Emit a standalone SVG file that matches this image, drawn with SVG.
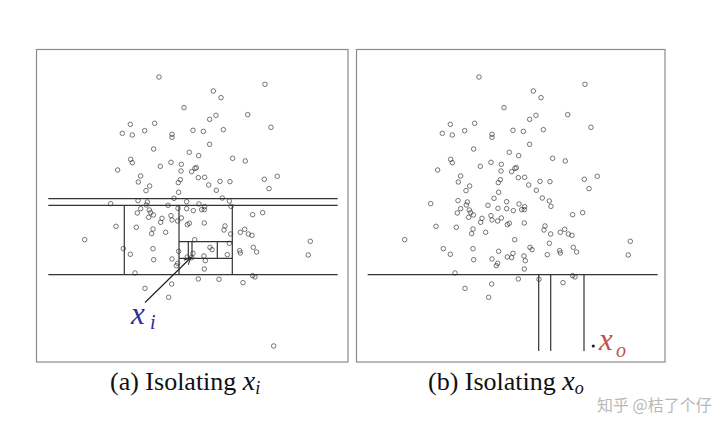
<svg xmlns="http://www.w3.org/2000/svg" xmlns:xlink="http://www.w3.org/1999/xlink" width="720" height="433" viewBox="0 0 720 433">
<style>
.frame{fill:none;stroke:#8a8a8a;stroke-width:1.2}
.cut{stroke:#333;stroke-width:1.2;fill:none}
.pt{fill:none;stroke:#333;stroke-width:2}
.cap{font-family:"Liberation Serif","Times New Roman",serif;font-size:26px;fill:#111}
.lab{font-family:"Liberation Serif","Times New Roman",serif;font-style:italic}
</style>
<defs>
<marker id="ah" viewBox="0 0 10 10" refX="9" refY="5" markerWidth="8" markerHeight="8" orient="auto" markerUnits="userSpaceOnUse">
<path d="M0,1 L9,5 L0,9" fill="none" stroke="#222" stroke-width="1.2"/>
</marker>
<g id="pts" class="pt">
<circle cx="372" cy="96" r="6.8"/><circle cx="690" cy="118" r="6.8"/><circle cx="535" cy="138" r="6.8"/><circle cx="558" cy="158" r="6.8"/>
<circle cx="447" cy="188" r="6.8"/><circle cx="543" cy="211" r="6.8"/><circle cx="524" cy="223" r="6.8"/><circle cx="638" cy="209" r="6.8"/>
<circle cx="359" cy="235" r="6.8"/><circle cx="286" cy="238" r="6.8"/><circle cx="262" cy="265" r="6.8"/><circle cx="292" cy="270" r="6.8"/>
<circle cx="329" cy="257" r="6.8"/><circle cx="411" cy="268" r="6.8"/><circle cx="411" cy="277" r="6.8"/><circle cx="474" cy="256" r="6.8"/>
<circle cx="505" cy="259" r="6.8"/><circle cx="565" cy="254" r="6.8"/><circle cx="708" cy="247" r="6.8"/><circle cx="524" cy="298" r="6.8"/>
<circle cx="356" cy="312" r="6.8"/><circle cx="463" cy="322" r="6.8"/><circle cx="491" cy="332" r="6.8"/><circle cx="287" cy="343" r="6.8"/>
<circle cx="292" cy="353" r="6.8"/><circle cx="593" cy="340" r="6.8"/><circle cx="631" cy="348" r="6.8"/><circle cx="248" cy="375" r="6.8"/>
<circle cx="376" cy="364" r="6.8"/><circle cx="408" cy="352" r="6.8"/><circle cx="439" cy="358" r="6.8"/><circle cx="438" cy="378" r="6.8"/>
<circle cx="470" cy="380" r="6.8"/><circle cx="480" cy="370" r="6.8"/><circle cx="484" cy="368" r="6.8"/><circle cx="317" cy="393" r="6.8"/>
<circle cx="310" cy="411" r="6.8"/><circle cx="490" cy="398" r="6.8"/><circle cx="509" cy="397" r="6.8"/><circle cx="436" cy="404" r="6.8"/>
<circle cx="430" cy="413" r="6.8"/><circle cx="555" cy="409" r="6.8"/><circle cx="585" cy="410" r="6.8"/><circle cx="688" cy="403" r="6.8"/>
<circle cx="727" cy="394" r="6.8"/><circle cx="702" cy="431" r="6.8"/><circle cx="521" cy="420" r="6.8"/><circle cx="544" cy="436" r="6.8"/>
<circle cx="344" cy="423" r="6.8"/><circle cx="333" cy="437" r="6.8"/><circle cx="431" cy="442" r="6.8"/><circle cx="417" cy="460" r="6.8"/>
<circle cx="455" cy="470" r="6.8"/><circle cx="492" cy="477" r="6.8"/><circle cx="509" cy="485" r="6.8"/><circle cx="508" cy="494" r="6.8"/>
<circle cx="562" cy="459" r="6.8"/><circle cx="583" cy="468" r="6.8"/><circle cx="588" cy="484" r="6.8"/><circle cx="399" cy="481" r="6.8"/>
<circle cx="429" cy="490" r="6.8"/><circle cx="455" cy="491" r="6.8"/><circle cx="475" cy="497" r="6.8"/><circle cx="500" cy="494" r="6.8"/>
<circle cx="227" cy="476" r="6.8"/><circle cx="309" cy="467" r="6.8"/><circle cx="337" cy="471" r="6.8"/><circle cx="334" cy="480" r="6.8"/>
<circle cx="317" cy="491" r="6.8"/><circle cx="307" cy="504" r="6.8"/><circle cx="343" cy="495" r="6.8"/><circle cx="347" cy="503" r="6.8"/>
<circle cx="355" cy="510" r="6.8"/><circle cx="341" cy="517" r="6.8"/><circle cx="381" cy="520" r="6.8"/><circle cx="408" cy="512" r="6.8"/>
<circle cx="377" cy="532" r="6.8"/><circle cx="411" cy="525" r="6.8"/><circle cx="428" cy="528" r="6.8"/><circle cx="439" cy="519" r="6.8"/>
<circle cx="457" cy="539" r="6.8"/><circle cx="463" cy="535" r="6.8"/><circle cx="508" cy="534" r="6.8"/><circle cx="653" cy="509" r="6.8"/>
<circle cx="683" cy="503" r="6.8"/><circle cx="243" cy="544" r="6.8"/><circle cx="304" cy="547" r="6.8"/><circle cx="354" cy="552" r="6.8"/>
<circle cx="350" cy="566" r="6.8"/><circle cx="392" cy="562" r="6.8"/><circle cx="570" cy="543" r="6.8"/><circle cx="567" cy="555" r="6.8"/>
<circle cx="587" cy="567" r="6.8"/><circle cx="616" cy="562" r="6.8"/><circle cx="629" cy="553" r="6.8"/><circle cx="640" cy="567" r="6.8"/>
<circle cx="651" cy="571" r="6.8"/><circle cx="149" cy="584" r="6.8"/><circle cx="826" cy="589" r="6.8"/><circle cx="479" cy="584" r="6.8"/>
<circle cx="583" cy="595" r="6.8"/><circle cx="265" cy="611" r="6.8"/><circle cx="286" cy="628" r="6.8"/><circle cx="354" cy="611" r="6.8"/>
<circle cx="431" cy="619" r="6.8"/><circle cx="525" cy="607" r="6.8"/><circle cx="531" cy="614" r="6.8"/><circle cx="577" cy="629" r="6.8"/>
<circle cx="614" cy="617" r="6.8"/><circle cx="616" cy="624" r="6.8"/><circle cx="655" cy="607" r="6.8"/><circle cx="665" cy="621" r="6.8"/>
<circle cx="820" cy="630" r="6.8"/><circle cx="356" cy="644" r="6.8"/><circle cx="411" cy="642" r="6.8"/><circle cx="457" cy="636" r="6.8"/>
<circle cx="470" cy="638" r="6.8"/><circle cx="474" cy="625" r="6.8"/><circle cx="507" cy="633" r="6.8"/><circle cx="511" cy="647" r="6.8"/>
<circle cx="428" cy="655" r="6.8"/><circle cx="424" cy="662" r="6.8"/><circle cx="508" cy="672" r="6.8"/><circle cx="300" cy="684" r="6.8"/>
<circle cx="490" cy="702" r="6.8"/><circle cx="552" cy="703" r="6.8"/><circle cx="624" cy="713" r="6.8"/><circle cx="653" cy="692" r="6.8"/>
<circle cx="660" cy="696" r="6.8"/><circle cx="410" cy="717" r="6.8"/><circle cx="330" cy="730" r="6.8"/><circle cx="401" cy="757" r="6.8"/>
</g>
</defs>
<rect width="720" height="433" fill="#fff"/>
<rect class="frame" x="36.5" y="49.5" width="311.5" height="312.5"/>
<rect class="frame" x="356.5" y="49.5" width="308.5" height="312.5"/>
<g id="panel-a">
<use xlink:href="#pts" transform="translate(35,45) scale(0.3333)"/>
<circle cx="273.7" cy="346" r="2.27" fill="none" stroke="#333" stroke-width="0.67"/>
<g class="cut">
<path d="M48.3,198.7H337.7M48.3,205.3H337.7M48.3,274.7H337.7"/>
<path d="M124.3,205.3V274.7M232.3,205.3V274.7M179,205.3V274.7"/>
<path d="M179,241.7H232.3M179,258.3H232.3M217.3,241.7V258.3M188.3,241.7V258.3M192,241.7V258.3"/>
</g>
<line x1="145" y1="302.5" x2="191" y2="257.5" stroke="#222" stroke-width="1.2" marker-end="url(#ah)"/>
<text class="lab" x="131" y="323.5" font-size="31" fill="#2b2b9c">x</text>
<text class="lab" x="150" y="329" font-size="20" fill="#2b2b9c">i</text>
</g>
<g id="panel-b">
<use xlink:href="#pts" transform="translate(355,45) scale(0.3333)"/>
<g class="cut">
<path d="M367.7,274.7H657.7"/>
<path d="M538.7,274.7V351M550.7,274.7V351M584,274.7V351"/>
</g>
<circle cx="593.3" cy="346" r="1.6" fill="#222"/>
<text class="lab" x="599" y="350" font-size="31" fill="#c0504d">x</text>
<text class="lab" x="616" y="357" font-size="20" fill="#c0504d">o</text>
</g>
<text class="cap" x="110" y="390">(a) Isolating <tspan font-style="italic" font-size="28">x</tspan><tspan font-style="italic" font-size="18" dy="4">i</tspan></text>
<text class="cap" x="428" y="390">(b) Isolating <tspan font-style="italic" font-size="28">x</tspan><tspan font-style="italic" font-size="18" dy="4">o</tspan></text>
<text x="597" y="411" font-family="'Noto Sans CJK SC',sans-serif" font-size="16" fill="#b8b8b8">知乎 @桔了个仔</text>
</svg>
